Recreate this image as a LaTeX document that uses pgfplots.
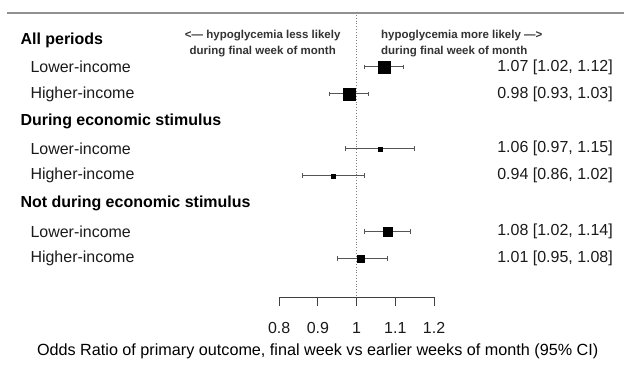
\documentclass[border=0pt]{standalone}
\usepackage{pgfplots}
\pgfplotsset{compat=1.18}
\usepackage{fontspec}
\setmainfont{Liberation Sans}
\definecolor{txt}{HTML}{1A1A1A}
\definecolor{ann}{HTML}{333333}
\definecolor{cicol}{HTML}{555555}
\definecolor{hrline}{rgb}{0.56,0.56,0.58}
\begin{document}
\begin{tikzpicture}
\begin{axis}[
  scale only axis, width=625pt, height=367pt,
  xmin=0.078710, xmax=1.691613, ymin=0, ymax=367,
  y dir=reverse, hide axis, clip=false,
  font=\fontsize{16}{19}\selectfont\color{txt},
  ci/.style={cicol, line width=0.9pt, mark=|, mark size=2.4pt, mark options={solid, cicol, line width=0.8pt}},
]
\path (rel axis cs:0,0) rectangle (rel axis cs:1,1);
% top rule
\draw[hrline, line width=1.8pt] (axis cs:0.0968,13) -- (axis cs:1.6910,13);
% reference line at OR = 1
\addplot[gray, dotted, line width=0.8pt] coordinates {(1,15) (1,298)};
% confidence intervals
\addplot[ci] coordinates {(1.02,67) (1.12,67)};
\addplot[ci] coordinates {(0.93,94) (1.03,94)};
\addplot[ci] coordinates {(0.97,149) (1.15,149)};
\addplot[ci] coordinates {(0.86,176) (1.02,176)};
\addplot[ci] coordinates {(1.02,232) (1.14,232)};
\addplot[ci] coordinates {(0.95,259) (1.08,259)};
% point estimates
\addplot[only marks, mark=square*, mark size=6pt, black] coordinates {(1.07,67)};
\addplot[only marks, mark=square*, mark size=6pt, black] coordinates {(0.98,94)};
\addplot[only marks, mark=square*, mark size=2pt, black] coordinates {(1.06,149)};
\addplot[only marks, mark=square*, mark size=2pt, black] coordinates {(0.94,176)};
\addplot[only marks, mark=square*, mark size=4.3pt, black] coordinates {(1.08,232)};
\addplot[only marks, mark=square*, mark size=3.7pt, black] coordinates {(1.01,259)};
% bottom axis
\draw[black!75, line width=0.9pt] (axis cs:0.8,306) -- (axis cs:0.8,298) -- (axis cs:1.2,298) -- (axis cs:1.2,306);
\draw[black!75, line width=0.9pt] (axis cs:0.9,298) -- (axis cs:0.9,306);
\draw[black!75, line width=0.9pt] (axis cs:1,298) -- (axis cs:1,306);
\draw[black!75, line width=0.9pt] (axis cs:1.1,298) -- (axis cs:1.1,306);
\node[anchor=center] at (axis cs:0.8,328) {0.8};
\node[anchor=center] at (axis cs:0.9,328) {0.9};
\node[anchor=center] at (axis cs:1,328) {1};
\node[anchor=center] at (axis cs:1.1,328) {1.1};
\node[anchor=center] at (axis cs:1.2,328) {1.2};
\node[anchor=center, font=\fontsize{16.2}{19}\selectfont] at (axis cs:0.8994,352) {Odds Ratio of primary outcome, final week vs earlier weeks of month (95\% CI)};
% annotations
\node[anchor=center, align=center, text=ann, font=\fontsize{11.5}{16.5}\selectfont\bfseries] at (axis cs:0.7574,43.5) {<— hypoglycemia less likely\\during final week of month};
\node[anchor=west, align=left, text=ann, font=\fontsize{11.5}{16.5}\selectfont\bfseries] at (axis cs:1.0542,43.5) {hypoglycemia more likely —>\\during final week of month};
% row labels
\node[anchor=west, font=\fontsize{16}{19}\selectfont\bfseries] at (axis cs:0.1226,40) {All periods};
\node[anchor=west] at (axis cs:0.1484,67) {Lower-income};
\node[anchor=west] at (axis cs:0.1484,94) {Higher-income};
\node[anchor=west, font=\fontsize{16}{19}\selectfont\bfseries] at (axis cs:0.1226,121.5) {During economic stimulus};
\node[anchor=west] at (axis cs:0.1484,149) {Lower-income};
\node[anchor=west] at (axis cs:0.1484,176) {Higher-income};
\node[anchor=west, font=\fontsize{16}{19}\selectfont\bfseries] at (axis cs:0.1226,204) {Not during economic stimulus};
\node[anchor=west] at (axis cs:0.1484,232) {Lower-income};
\node[anchor=west] at (axis cs:0.1484,259) {Higher-income};
% estimates text
\node[anchor=east] at (axis cs:1.6710,67) {1.07 [1.02, 1.12]};
\node[anchor=east] at (axis cs:1.6710,94) {0.98 [0.93, 1.03]};
\node[anchor=east] at (axis cs:1.6710,149) {1.06 [0.97, 1.15]};
\node[anchor=east] at (axis cs:1.6710,176) {0.94 [0.86, 1.02]};
\node[anchor=east] at (axis cs:1.6710,232) {1.08 [1.02, 1.14]};
\node[anchor=east] at (axis cs:1.6710,259) {1.01 [0.95, 1.08]};
\end{axis}
\end{tikzpicture}
\end{document}
